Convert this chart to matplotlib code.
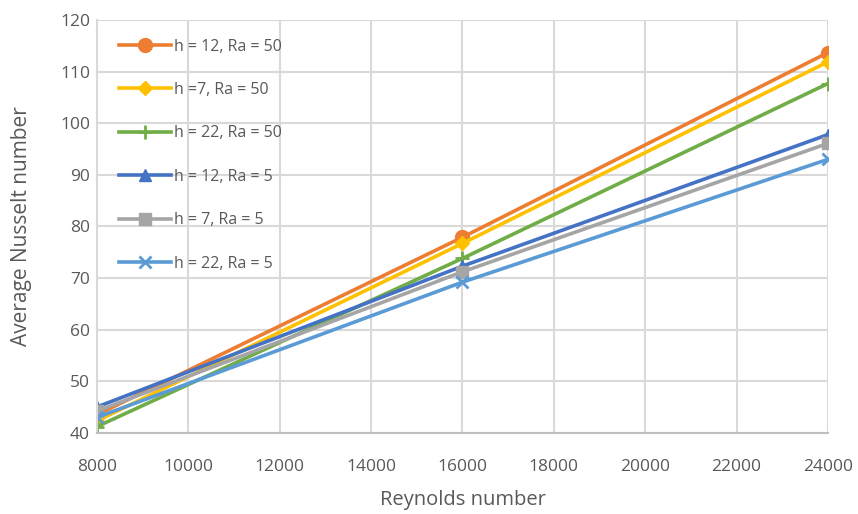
import matplotlib.pyplot as plt

reynolds = [8000, 16000, 24000]
labels = ['h = 12, Ra = 50', 'h =7, Ra = 50', 'h = 22, Ra = 50',
          'h = 12, Ra = 5', 'h = 7, Ra = 5', 'h = 22, Ra = 5']
nu_h12_ra50 = [43.5, 77.9, 113.7]
nu_h7_ra50 = [42.3, 76.7, 111.9]
nu_h22_ra50 = [41.2, 73.8, 107.7]
nu_h12_ra5 = [45.0, 72.3, 97.8]
nu_h7_ra5 = [44.2, 71.2, 96.1]
nu_h22_ra5 = [43.0, 69.2, 93.0]

series = [nu_h12_ra50, nu_h7_ra50, nu_h22_ra50, nu_h12_ra5, nu_h7_ra5, nu_h22_ra5]
colors = ['#ED7D31', '#FFC000', '#70AD47', '#4472C4', '#A5A5A5', '#5B9BD5']
markers = ['o', 'D', '+', '^', 's', 'x']
msizes = [10, 7, 10, 8, 9, 9]

plt.rcParams['font.family'] = ['Open Sans', 'DejaVu Sans']

fig = plt.figure(figsize=(8.58, 5.14), dpi=100)
ax = fig.add_axes([0.113, 0.158, 0.852, 0.803])

for y, c, m, ms, lab in zip(series, colors, markers, msizes, labels):
    ax.plot(reynolds, y, color=c, lw=2.6, marker=m, markersize=ms,
            markeredgewidth=2 if m in '+x' else 1, markeredgecolor=c, label=lab)

ax.set_xlim(8000, 24000)
ax.set_ylim(40, 120)
ax.set_xticks(range(8000, 24001, 2000))
ax.set_yticks(range(40, 121, 10))
ax.grid(True, color='#D9D9D9', lw=1.5)
ax.set_axisbelow(True)
for s in ax.spines.values():
    s.set_visible(False)
ax.spines['left'].set_visible(True)
ax.spines['bottom'].set_visible(True)
ax.spines['left'].set_color('#D9D9D9')
ax.spines['bottom'].set_color('#BFBFBF')
ax.spines['left'].set_linewidth(1.5)
ax.spines['bottom'].set_linewidth(1.5)
ax.tick_params(length=0, labelsize=12.5, colors='#595959')
ax.tick_params(axis='x', pad=19)
ax.tick_params(axis='y', pad=5)
ax.set_xlabel('Reynolds number', fontsize=14.5, color='#595959', labelpad=11)
ax.set_ylabel('Average Nusselt number', fontsize=15, color='#595959')
ax.yaxis.set_label_coords(-0.089, 0.5)

leg = ax.legend(loc='upper left', bbox_to_anchor=(0.01, 0.99), frameon=False,
                fontsize=11.5, labelspacing=1.72, handlelength=3.3, handletextpad=0.15,
                labelcolor='#595959')

fig.savefig('out.png', dpi=100)
